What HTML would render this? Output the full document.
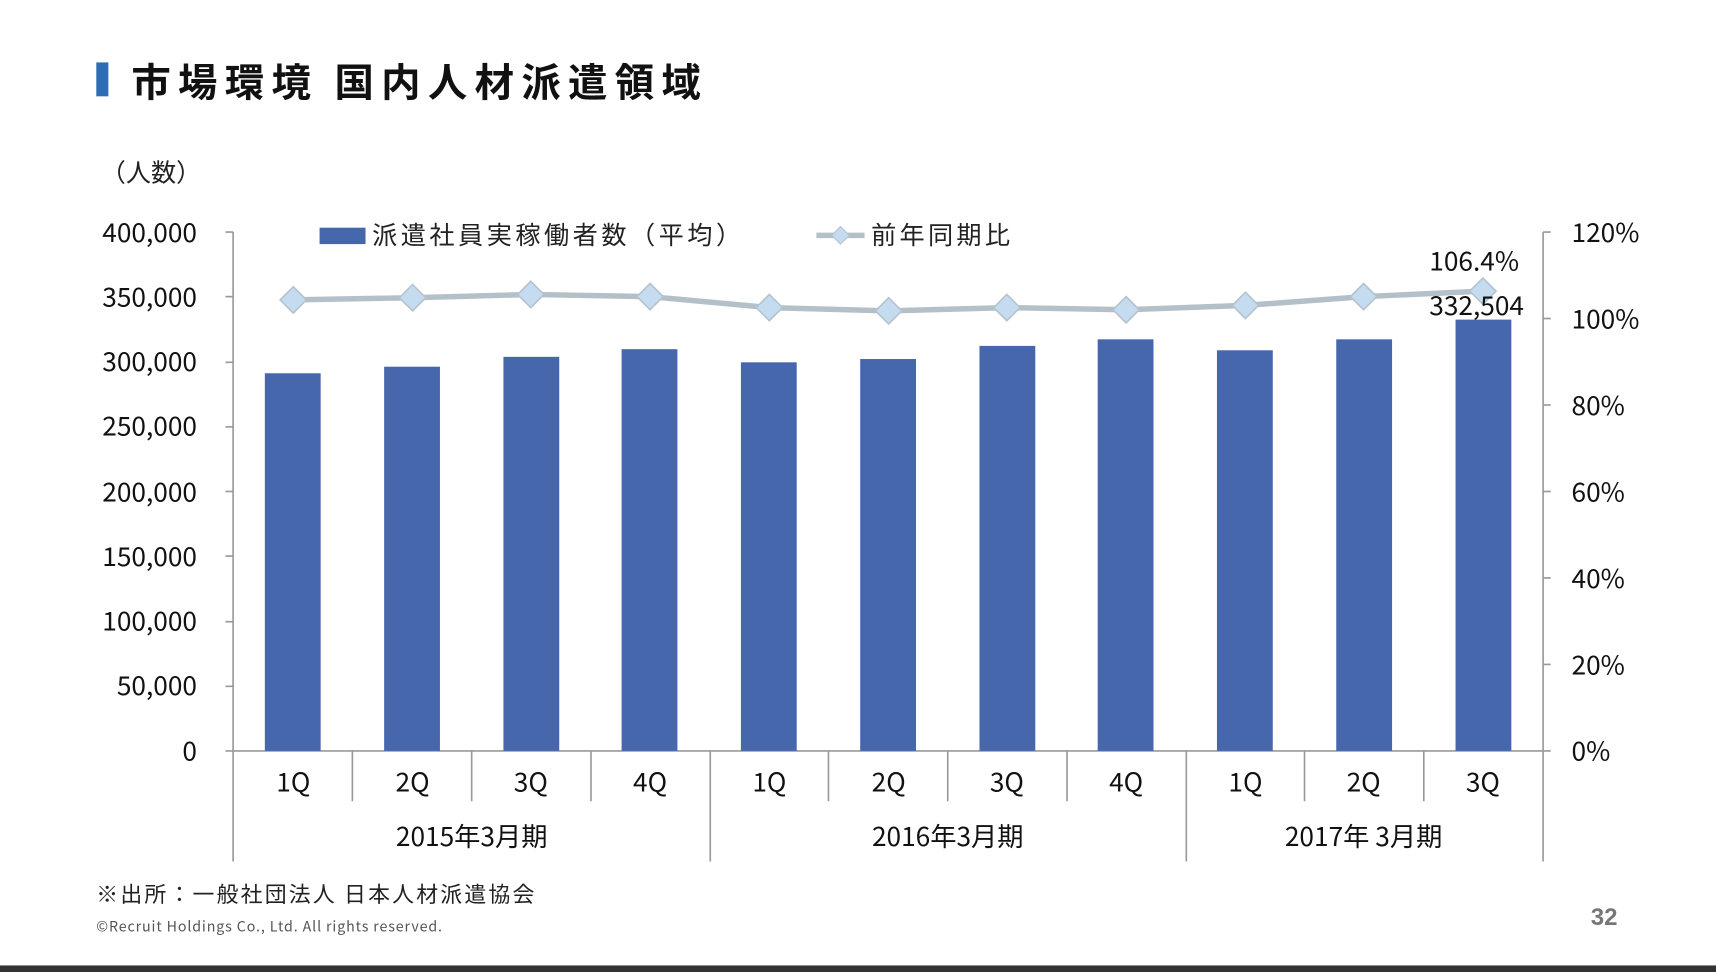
<!DOCTYPE html>
<html><head><meta charset="utf-8"><style>
html,body{margin:0;padding:0;background:#fff;}
svg{display:block;font-family:"Liberation Sans","Noto Sans CJK JP",sans-serif;}
</style></head><body>
<svg width="1716" height="972" viewBox="0 0 1568 888" preserveAspectRatio="none" xmlns="http://www.w3.org/2000/svg">
<rect x="0" y="0" width="1568" height="888" fill="#fff"/>
<rect x="88" y="57" width="11" height="31" fill="#2e6db4"/>
<text x="120" y="88" font-size="36" font-weight="bold" font-family="Noto Sans CJK JP, sans-serif" fill="#111" letter-spacing="6.7">市場環境 国内人材派遣領域</text>
<text x="92" y="166" font-size="23" font-family="Noto Sans CJK JP, sans-serif" fill="#222">（人数）</text>
<g font-size="24" fill="#111" text-anchor="end" font-family="Noto Sans CJK JP, sans-serif">
<text x="180" y="221">400,000</text><text x="180" y="280">350,000</text><text x="180" y="339">300,000</text>
<text x="180" y="398">250,000</text><text x="180" y="458">200,000</text><text x="180" y="517">150,000</text>
<text x="180" y="576">100,000</text><text x="180" y="635">50,000</text><text x="180" y="695">0</text>
</g>
<g font-size="24" fill="#111" font-family="Noto Sans CJK JP, sans-serif">
<text x="1436" y="221">120%</text><text x="1436" y="300">100%</text><text x="1436" y="379">80%</text>
<text x="1436" y="458">60%</text><text x="1436" y="537">40%</text><text x="1436" y="616">20%</text><text x="1436" y="695">0%</text>
</g>
<g stroke="#999" stroke-width="1.5" fill="none">
<line x1="213" y1="212" x2="213" y2="787"/>
<line x1="206" y1="212" x2="213" y2="212"/><line x1="206" y1="271" x2="213" y2="271"/><line x1="206" y1="331" x2="213" y2="331"/>
<line x1="206" y1="390" x2="213" y2="390"/><line x1="206" y1="449" x2="213" y2="449"/><line x1="206" y1="508" x2="213" y2="508"/>
<line x1="206" y1="568" x2="213" y2="568"/><line x1="206" y1="627" x2="213" y2="627"/>
<line x1="1410" y1="212" x2="1410" y2="787"/>
<line x1="1410" y1="212" x2="1417" y2="212"/><line x1="1410" y1="291" x2="1417" y2="291"/><line x1="1410" y1="370" x2="1417" y2="370"/>
<line x1="1410" y1="449" x2="1417" y2="449"/><line x1="1410" y1="528" x2="1417" y2="528"/><line x1="1410" y1="607" x2="1417" y2="607"/>
<line x1="206" y1="686" x2="1417" y2="686"/>
<line x1="322" y1="686" x2="322" y2="732"/><line x1="431" y1="686" x2="431" y2="732"/><line x1="540" y1="686" x2="540" y2="732"/>
<line x1="649" y1="686" x2="649" y2="787"/>
<line x1="757" y1="686" x2="757" y2="732"/><line x1="866" y1="686" x2="866" y2="732"/><line x1="975" y1="686" x2="975" y2="732"/>
<line x1="1084" y1="686" x2="1084" y2="787"/>
<line x1="1192" y1="686" x2="1192" y2="732"/><line x1="1301" y1="686" x2="1301" y2="732"/>
</g>
<g fill="#4767ad">
<rect x="242" y="341" width="51" height="345"/><rect x="351" y="335" width="51" height="351"/>
<rect x="460" y="326" width="51" height="360"/><rect x="568" y="319" width="51" height="367"/>
<rect x="677" y="331" width="51" height="355"/><rect x="786" y="328" width="51" height="358"/>
<rect x="895" y="316" width="51" height="370"/><rect x="1003" y="310" width="51" height="376"/>
<rect x="1112" y="320" width="51" height="366"/><rect x="1221" y="310" width="51" height="376"/>
<rect x="1330" y="292" width="51" height="394"/>
</g>
<polyline fill="none" stroke="#b4c0c8" stroke-width="5" points="268,274 377,272 485,269 594,271 703,281 812,284 920,281 1029,283 1138,279 1246,271 1355,266"/>
<g fill="#c5dcf0" stroke="#b5c3cf" stroke-width="1.5">
<path d="M268,262 l12,12 l-12,12 l-12,-12z"/><path d="M377,260 l12,12 l-12,12 l-12,-12z"/>
<path d="M485,257 l12,12 l-12,12 l-12,-12z"/><path d="M594,259 l12,12 l-12,12 l-12,-12z"/>
<path d="M703,269 l12,12 l-12,12 l-12,-12z"/><path d="M812,272 l12,12 l-12,12 l-12,-12z"/>
<path d="M920,269 l12,12 l-12,12 l-12,-12z"/><path d="M1029,271 l12,12 l-12,12 l-12,-12z"/>
<path d="M1138,267 l12,12 l-12,12 l-12,-12z"/><path d="M1246,259 l12,12 l-12,12 l-12,-12z"/>
<path d="M1355,254 l12,12 l-12,12 l-12,-12z"/>
</g>
<g font-size="24" fill="#111" font-family="Noto Sans CJK JP, sans-serif">
<text x="1306" y="247">106.4%</text>
<text x="1306" y="288">332,504</text>
</g>
<rect x="292" y="208" width="42" height="15" fill="#4767ad"/>
<text x="340" y="223" font-size="23" fill="#222" font-family="Noto Sans CJK JP, sans-serif" letter-spacing="3.2">派遣社員実稼働者数（平均）</text>
<line x1="746" y1="215" x2="790" y2="215" stroke="#b4c0c8" stroke-width="5"/>
<path d="M768,207 l8,8 l-8,8 l-8,-8z" fill="#c5dcf0" stroke="#b5c3cf"/>
<text x="796" y="223" font-size="23" fill="#222" font-family="Noto Sans CJK JP, sans-serif" letter-spacing="3">前年同期比</text>
<g font-size="24" fill="#111" text-anchor="middle" font-family="Noto Sans CJK JP, sans-serif">
<text x="268" y="723">1Q</text><text x="377" y="723">2Q</text><text x="485" y="723">3Q</text><text x="594" y="723">4Q</text>
<text x="703" y="723">1Q</text><text x="812" y="723">2Q</text><text x="920" y="723">3Q</text><text x="1029" y="723">4Q</text>
<text x="1138" y="723">1Q</text><text x="1246" y="723">2Q</text><text x="1355" y="723">3Q</text>
<text x="431" y="773">2015年3月期</text><text x="866" y="773">2016年3月期</text><text x="1246" y="773">2017年 3月期</text>
</g>
<text x="88" y="824" font-size="20" fill="#222" font-family="Noto Sans CJK JP, sans-serif" letter-spacing="2">※出所：一般社団法人 日本人材派遣協会</text>
<text x="88" y="851" font-size="13" fill="#555" font-family="Noto Sans CJK JP, sans-serif" letter-spacing="0.8">©Recruit Holdings Co., Ltd. All rights reserved.</text>
<text x="1478" y="845" font-size="22" font-weight="bold" fill="#777" text-anchor="end">32</text>
<rect x="0" y="882" width="1568" height="6" fill="#333"/>
</svg>
</body></html>
